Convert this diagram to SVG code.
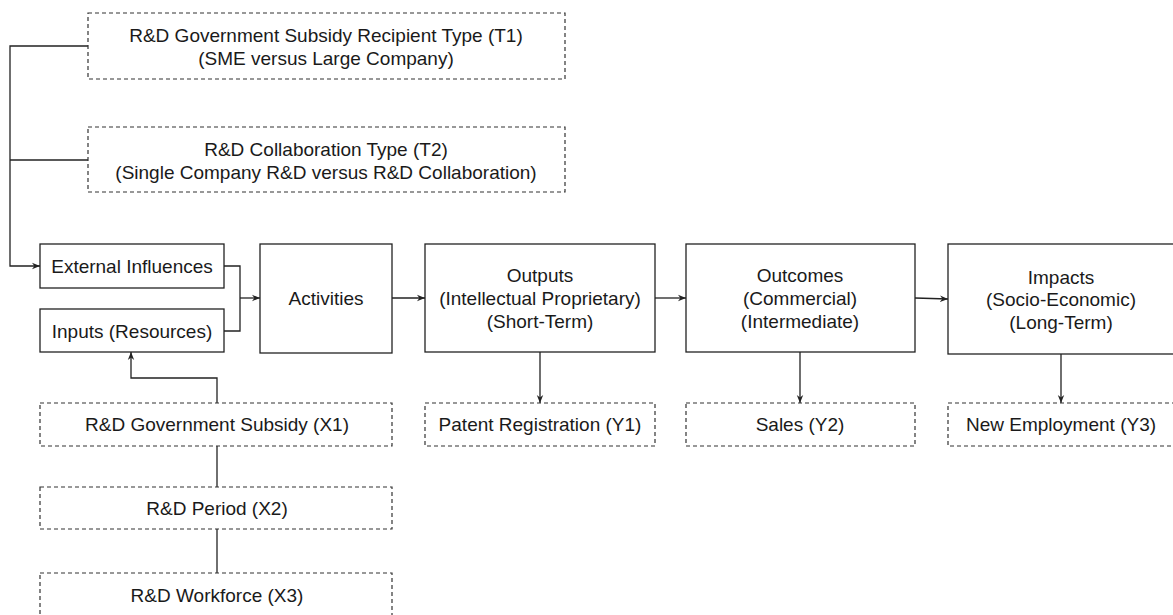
<svg xmlns="http://www.w3.org/2000/svg" width="1173" height="615" viewBox="0 0 1173 615">
<style>
.solid{fill:#fff;stroke:#222;stroke-width:1.3}
.dash{fill:#fff;stroke:#333;stroke-width:1.2;stroke-dasharray:4 3}
text{font-family:"Liberation Sans",Arial,sans-serif;font-size:19px;fill:#1a1a1a;text-anchor:middle}
.conn{fill:none;stroke:#222;stroke-width:1.3}
</style>
<defs>
<marker id="arr" viewBox="0 0 10 10" refX="10" refY="5" markerWidth="8" markerHeight="8" markerUnits="userSpaceOnUse" orient="auto">
<path d="M0,1 L10,5 L0,9 L3,5 Z" fill="#222"/>
</marker>
</defs>
<rect width="1173" height="615" fill="#fff"/>
<g id="connectors">
<path class="conn" d="M88,46 H10 V266 H40" marker-end="url(#arr)"/>
<path class="conn" d="M88,160 H10"/>
<path class="conn" d="M224,266 H240 V331 H224"/>
<path class="conn" d="M240,298 H260" marker-end="url(#arr)"/>
<path class="conn" d="M392,298 H425" marker-end="url(#arr)"/>
<path class="conn" d="M655,298 H686" marker-end="url(#arr)"/>
<path class="conn" d="M915,298 L948,299" marker-end="url(#arr)"/>
<path class="conn" d="M540,352 V403" marker-end="url(#arr)"/>
<path class="conn" d="M800,352 V403" marker-end="url(#arr)"/>
<path class="conn" d="M1061,354 V403" marker-end="url(#arr)"/>
<path class="conn" d="M217,403 V378 H131 V352" marker-end="url(#arr)"/>
<path class="conn" d="M217,446 V487"/>
<path class="conn" d="M217,529 V573"/>
</g>
<g id="t1"><rect class="dash" x="88" y="13" width="477" height="66"/><text x="326" y="42">R&amp;D Government Subsidy Recipient Type (T1)</text><text x="326" y="65">(SME versus Large Company)</text></g>
<g id="t2"><rect class="dash" x="88" y="127" width="477" height="65"/><text x="326" y="156">R&amp;D Collaboration Type (T2)</text><text x="326" y="179">(Single Company R&amp;D versus R&amp;D Collaboration)</text></g>
<g id="external"><rect class="solid" x="40" y="244" width="184" height="44"/><text x="132" y="273">External Influences</text></g>
<g id="inputs"><rect class="solid" x="40" y="309" width="184" height="43"/><text x="132" y="338">Inputs (Resources)</text></g>
<g id="activities"><rect class="solid" x="260" y="244" width="132" height="109"/><text x="326" y="305">Activities</text></g>
<g id="outputs"><rect class="solid" x="425" y="244" width="230" height="108"/><text x="540" y="282">Outputs</text><text x="540" y="305">(Intellectual Proprietary)</text><text x="540" y="328">(Short-Term)</text></g>
<g id="outcomes"><rect class="solid" x="686" y="244" width="229" height="108"/><text x="800" y="282">Outcomes</text><text x="800" y="305">(Commercial)</text><text x="800" y="328">(Intermediate)</text></g>
<g id="impacts"><rect class="solid" x="948" y="244" width="230" height="110"/><text x="1061" y="284">Impacts</text><text x="1061" y="306">(Socio-Economic)</text><text x="1061" y="329">(Long-Term)</text></g>
<g id="y1"><rect class="dash" x="425" y="403" width="230" height="43"/><text x="540" y="431">Patent Registration (Y1)</text></g>
<g id="y2"><rect class="dash" x="686" y="403" width="229" height="43"/><text x="800" y="431">Sales (Y2)</text></g>
<g id="y3"><rect class="dash" x="948" y="403" width="230" height="43"/><text x="1061" y="431">New Employment (Y3)</text></g>
<g id="x1"><rect class="dash" x="40" y="403" width="352" height="43"/><text x="217" y="431">R&amp;D Government Subsidy (X1)</text></g>
<g id="x2"><rect class="dash" x="40" y="487" width="352" height="42"/><text x="217" y="515">R&amp;D Period (X2)</text></g>
<g id="x3"><rect class="dash" x="40" y="573" width="352" height="50"/><text x="217" y="602">R&amp;D Workforce (X3)</text></g>
</svg>
